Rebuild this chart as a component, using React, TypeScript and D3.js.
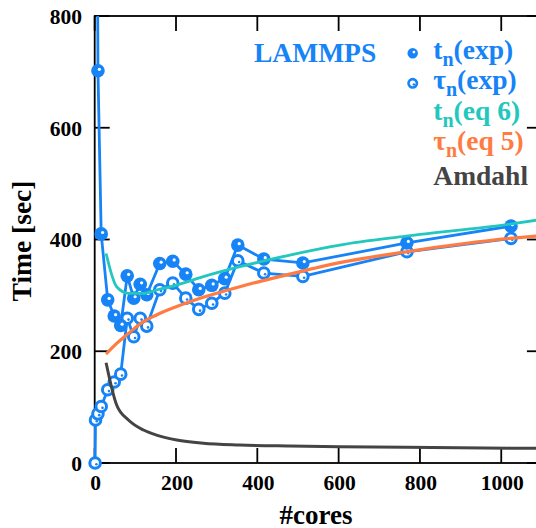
import React, { useRef, useEffect } from 'react';
import * as d3 from 'd3';

// measured t_n (filled circles)
const tnCores = [4, 8, 16, 32, 48, 64, 80, 96, 112, 128, 160, 192, 224, 256, 288, 320, 352, 416, 512, 768, 1024];
const tnExp = [1400, 702, 410, 292, 263, 246, 335, 295, 320, 301, 357, 361, 338, 310, 318, 330, 390, 365, 358, 394, 424];

// measured tau_n (open circles)
const tauCores = [1, 2, 8, 16, 32, 48, 64, 80, 96, 112, 128, 160, 192, 224, 256, 288, 320, 352, 416, 512, 768, 1024];
const tauExp = [0, 77, 88, 101, 131, 145, 159, 259, 226, 259, 245, 310, 322, 295, 275, 286, 304, 362, 340, 334, 378, 402];

// model curves
const modelCores = [28, 54, 83, 120, 152, 202, 267, 357, 480, 603, 766, 1022, 1100];
const tnEq6 = [375, 315.5, 303.7, 303.7, 309.6, 318.5, 333.4, 351.3, 372.2, 390, 406, 427.7, 436];
const tauEq5 = [195, 214, 232, 253, 265, 280, 296.5, 315.5, 338, 358.5, 378, 402, 407];
const amdahl = [179.5, 103.8, 77, 59, 50, 41, 35.3, 32.2, 30.4, 29.2, 28, 26.6, 26.2];

const xTicks = [0, 200, 400, 600, 800, 1000];
const yTicks = [0, 200, 400, 600, 800];

const BLUE = '#1683f7';
const CYAN = '#22c7bd';
const ORANGE = '#ff7b42';
const GRAY = '#444444';
const FONT = 'Liberation Serif, Times New Roman, serif';

const App = () => {
  const svgRef = useRef(null);

  useEffect(() => {
    const svg = d3.select(svgRef.current)
      .attr('font-family', FONT)
      .attr('font-weight', 'bold');
    svg.selectAll('*').remove();

    const x = d3.scaleLinear().domain([0, 1100]).range([94.7, 541.9]);
    const y = d3.scaleLinear().domain([0, 800]).range([463, 16]);
    const [x0, x1] = x.range();
    const [y0, y1] = y.range();

    svg.append('defs').append('clipPath').attr('id', 'plot-clip')
      .append('rect')
      .attr('x', x0 - 8).attr('y', y1)
      .attr('width', x1 - x0 + 16).attr('height', y0 - y1 + 8);

    // frame
    const frame = svg.append('g').attr('stroke', '#000').attr('stroke-width', 1.8).attr('fill', 'none');
    frame.append('rect').attr('x', x0).attr('y', y1).attr('width', x1 - x0).attr('height', y0 - y1);

    // ticks (inside, on all four sides)
    xTicks.forEach(t => {
      frame.append('line').attr('x1', x(t)).attr('x2', x(t)).attr('y1', y0).attr('y2', y0 - 15);
      frame.append('line').attr('x1', x(t)).attr('x2', x(t)).attr('y1', y1).attr('y2', y1 + 15);
    });
    yTicks.forEach(t => {
      frame.append('line').attr('x1', x0).attr('x2', x0 + 15).attr('y1', y(t)).attr('y2', y(t));
      frame.append('line').attr('x1', x1).attr('x2', x1 - 15).attr('y1', y(t)).attr('y2', y(t));
    });

    // tick labels
    svg.append('g')
      .selectAll('text')
      .data(xTicks)
      .enter()
      .append('text')
      .attr('x', d => x(d) + 1)
      .attr('y', 489.5)
      .attr('text-anchor', 'middle')
      .attr('font-size', 21.5)
      .text(d => d);

    svg.append('g')
      .selectAll('text')
      .data(yTicks)
      .enter()
      .append('text')
      .attr('x', 82)
      .attr('y', d => y(d) + 7.8)
      .attr('text-anchor', 'end')
      .attr('font-size', 21.5)
      .text(d => d);

    // axis titles
    svg.append('text')
      .attr('x', 316)
      .attr('y', 523.5)
      .attr('text-anchor', 'middle')
      .attr('font-size', 27)
      .text('#cores');

    svg.append('text')
      .attr('transform', 'translate(31,241) rotate(-90)')
      .attr('text-anchor', 'middle')
      .attr('font-size', 27.5)
      .text('Time [sec]');

    const plot = svg.append('g').attr('clip-path', 'url(#plot-clip)');

    const line = d3.line().x(d => x(d[0])).y(d => y(d[1]));
    const tnData = tnCores.map((c, i) => [c, tnExp[i]]);
    const tauData = tauCores.map((c, i) => [c, tauExp[i]]);

    plot.append('path').datum(tauData).attr('d', line)
      .attr('fill', 'none').attr('stroke', BLUE).attr('stroke-width', 2.8).attr('stroke-linejoin', 'round');
    plot.append('path').datum(tnData).attr('d', line)
      .attr('fill', 'none').attr('stroke', BLUE).attr('stroke-width', 2.8).attr('stroke-linejoin', 'round');

    // open circles
    const open = plot.selectAll('.open').data(tauData).enter().append('g')
      .attr('transform', d => `translate(${x(d[0])},${y(d[1])})`);
    open.append('circle').attr('r', 5.3).attr('fill', '#fff').attr('stroke', BLUE).attr('stroke-width', 3);
    open.append('circle').attr('cx', 1.3).attr('cy', 1.3).attr('r', 1.3).attr('fill', BLUE);

    // filled circles
    const filled = plot.selectAll('.filled').data(tnData).enter().append('g')
      .attr('transform', d => `translate(${x(d[0])},${y(d[1])})`);
    filled.append('circle').attr('r', 6.8).attr('fill', BLUE);
    filled.append('circle').attr('cx', 1.4).attr('cy', -1.4).attr('r', 1.6).attr('fill', '#fff');

    // model curves
    const curve = d3.line().x(d => x(d[0])).y(d => y(d[1])).curve(d3.curveMonotoneX);
    [[tnEq6, CYAN, 2.8], [tauEq5, ORANGE, 3.2], [amdahl, GRAY, 3]].forEach(([vals, color, w]) => {
      plot.append('path')
        .datum(modelCores.map((c, i) => [c, vals[i]]))
        .attr('d', curve)
        .attr('fill', 'none')
        .attr('stroke', color)
        .attr('stroke-width', w);
    });

    // legend
    svg.append('text')
      .attr('x', 254).attr('y', 61.7)
      .attr('fill', BLUE)
      .attr('font-size', 27.5)
      .text('LAMMPS');

    const lm1 = svg.append('g').attr('transform', 'translate(412.7,53.3)');
    lm1.append('circle').attr('r', 5.2).attr('fill', BLUE);
    lm1.append('circle').attr('cx', 1.2).attr('cy', -1.2).attr('r', 1.4).attr('fill', '#fff');
    const lm2 = svg.append('g').attr('transform', 'translate(412.7,83.3)');
    lm2.append('circle').attr('r', 4.2).attr('fill', '#fff').attr('stroke', BLUE).attr('stroke-width', 2.6);
    lm2.append('circle').attr('cx', 1.1).attr('cy', 1.1).attr('r', 1.2).attr('fill', BLUE);

    const legendRows = [
      { sym: 't', sub: 'n', rest: '(exp)', color: BLUE, y: 59 },
      { sym: 'τ', sub: 'n', rest: '(exp)', color: BLUE, y: 89 },
      { sym: 't', sub: 'n', rest: '(eq 6)', color: CYAN, y: 120 },
      { sym: 'τ', sub: 'n', rest: '(eq 5)', color: ORANGE, y: 150 },
      { sym: 'Amdahl', sub: '', rest: '', color: GRAY, y: 185 },
    ];
    legendRows.forEach(r => {
      const t = svg.append('text')
        .attr('x', 433.3).attr('y', r.y)
        .attr('fill', r.color)
        .attr('font-size', 27.5);
      t.append('tspan').text(r.sym);
      if (r.sub) {
        t.append('tspan').attr('dy', 7).attr('font-size', 20).text(r.sub);
        t.append('tspan').attr('dy', -7).text(r.rest);
      }
    });
  }, []);

  return (
    <svg
      ref={svgRef}
      width={536}
      height={528}
      style={{ position: 'absolute', left: 0, top: 0, background: '#fff' }}
    />
  );
};

export default App;
